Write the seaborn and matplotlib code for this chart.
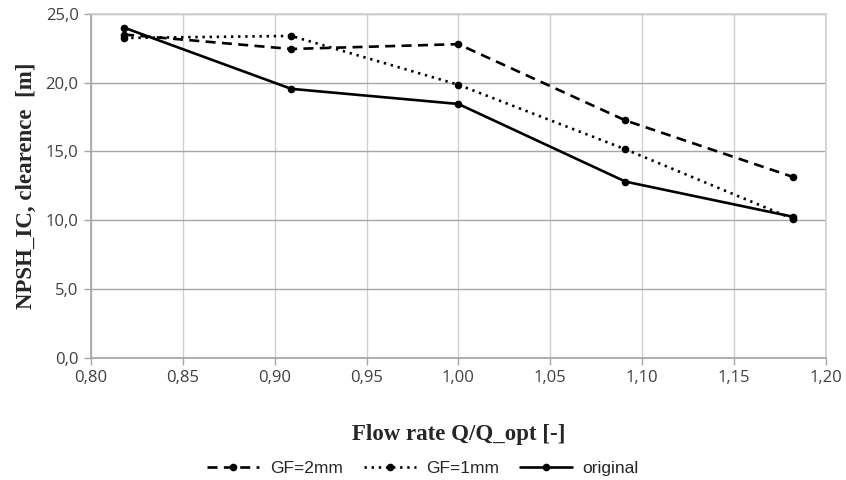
import pandas as pd
import matplotlib
matplotlib.use("Agg")
import matplotlib.pyplot as plt
import seaborn as sns

# Chart data
flow_rate = [0.818, 0.909, 1.000, 1.091, 1.182]
gf_2mm = [23.5, 22.45, 22.8, 17.25, 13.15]
gf_1mm = [23.25, 23.4, 19.85, 15.15, 10.1]
original = [24.0, 19.55, 18.45, 12.8, 10.25]
series_names = ["GF=2mm", "GF=1mm", "original"]

x_ticks = [0.80, 0.85, 0.90, 0.95, 1.00, 1.05, 1.10, 1.15, 1.20]
y_ticks = [0, 5, 10, 15, 20, 25]

sns.set_theme(style="white")
plt.rcParams['font.family'] = ['Open Sans', 'DejaVu Sans']

df = pd.DataFrame({
    "flow": flow_rate * 3,
    "npsh": gf_2mm + gf_1mm + original,
    "series": [s for s in series_names for _ in flow_rate],
})

fig, ax = plt.subplots(figsize=(8.46, 4.8), dpi=100)
fig.subplots_adjust(left=0.1076, right=0.976, top=0.971, bottom=0.255)

line_styles = {"GF=2mm": (0, (3.8, 2.4)), "GF=1mm": (0, (0.9, 1.8)), "original": "-"}
for name in series_names:
    sub = df[df["series"] == name]
    sns.lineplot(data=sub, x="flow", y="npsh", ax=ax, color="black",
                 linewidth=1.9, marker="o", markersize=5.5, markeredgewidth=0,
                 linestyle=line_styles[name], label=name, legend=False)

ax.set_xlim(0.80, 1.20)
ax.set_ylim(0, 25)
ax.set_xticks(x_ticks)
ax.set_yticks(y_ticks)
ax.set_xticklabels([f"{v:.2f}".replace(".", ",") for v in x_ticks], fontsize=12, color="#404040")
ax.set_yticklabels([f"{v:.1f}".replace(".", ",") for v in y_ticks], fontsize=12, color="#404040")

ax.xaxis.grid(True, color="#d0d0d0", linewidth=1)
ax.yaxis.grid(True, color="#a6a6a6", linewidth=1)
ax.set_axisbelow(True)
for side in ["top", "right"]:
    ax.spines[side].set_color("#d0d0d0")
for side in ["left", "bottom"]:
    ax.spines[side].set_color("#a6a6a6")
ax.tick_params(axis="both", which="major", direction="out", length=5, width=1,
               color="#a6a6a6", bottom=True, left=True, pad=4)

ax.set_xlabel("Flow rate Q/Q_opt [-]", fontsize=16.5, fontweight="bold",
              family="Liberation Serif", labelpad=27)
ax.set_ylabel("NPSH_IC, clearence  [m]", fontsize=16.5, fontweight="bold",
              family="Liberation Serif", labelpad=6)

handles, labels = ax.get_legend_handles_labels()
fig.legend(handles, labels, loc="lower center", bbox_to_anchor=(0.5, -0.025), ncol=3,
           frameon=False, prop={"family": "Liberation Sans", "size": 12.5},
           handlelength=3.0, columnspacing=1.2, handletextpad=0.6)

fig.savefig("out.png", dpi=100)
